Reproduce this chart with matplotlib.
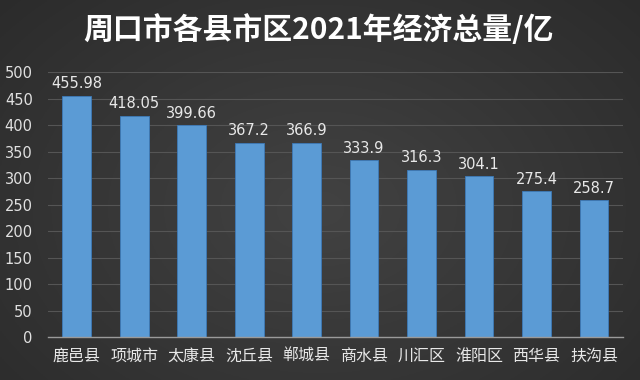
import matplotlib
matplotlib.use("Agg")
import matplotlib.pyplot as plt
import numpy as np

plt.rcParams['font.family'] = ['Noto Sans CJK SC', 'DejaVu Sans']

categories = ["鹿邑县", "项城市", "太康县", "沈丘县", "郸城县", "商水县", "川汇区", "淮阳区", "西华县", "扶沟县"]
values = [455.98, 418.05, 399.66, 367.2, 366.9, 333.9, 316.3, 304.1, 275.4, 258.7]
value_labels = ["455.98", "418.05", "399.66", "367.2", "366.9", "333.9", "316.3", "304.1", "275.4", "258.7"]
yticks = [0, 50, 100, 150, 200, 250, 300, 350, 400, 450, 500]

fig = plt.figure(figsize=(6.4, 3.8), dpi=100)

# background gradient
bg = fig.add_axes([0, 0, 1, 1])
yy, xx = np.mgrid[0:1:200j, 0:1:340j]
r = np.sqrt(((xx - 0.5) / 0.75) ** 2 + ((yy - 0.55) / 0.9) ** 2)
shade = 0.26 - 0.10 * np.clip(r, 0, 1)
bg.imshow(np.dstack([shade, shade, shade]), aspect='auto', extent=[0, 1, 0, 1])
bg.axis('off')

ax = fig.add_axes([0.075, 0.113, 0.898, 0.697])
ax.set_facecolor('none')
x = np.arange(len(categories))
ax.bar(x, values, width=0.5, color='#5b9bd5', edgecolor='#3d7ab8', linewidth=0.6, zorder=3)
for xi, v, lab in zip(x, values, value_labels):
    ax.text(xi, v + 8, lab, ha='center', va='bottom', color='#e8e8e8', fontsize=10.5, family='DejaVu Sans')

ax.set_ylim(0, 500)
ax.set_xlim(-0.5, len(categories) - 0.5)
ax.set_yticks(yticks)
ax.set_yticklabels([str(t) for t in yticks], color='#e0e0e0', fontsize=10.5, family='DejaVu Sans')
ax.set_xticks(x)
ax.set_xticklabels(categories, color='#e8e8e8', fontsize=11.5)
ax.tick_params(axis='y', length=0, pad=11)
ax.tick_params(axis='x', length=0, pad=8)
ax.grid(axis='y', color='#555555', linewidth=0.8, zorder=0)
for s in ['top', 'right', 'left']:
    ax.spines[s].set_visible(False)
ax.spines['bottom'].set_color('#9a9a9a')
ax.spines['bottom'].set_linewidth(1.0)
ax.spines['bottom'].set_zorder(4)

fig.text(0.497, 0.922, "周口市各县市区2021年经济总量/亿", ha='center', va='center',
         color='white', fontsize=21.5, fontweight='bold')

fig.savefig("out.png", dpi=100)
